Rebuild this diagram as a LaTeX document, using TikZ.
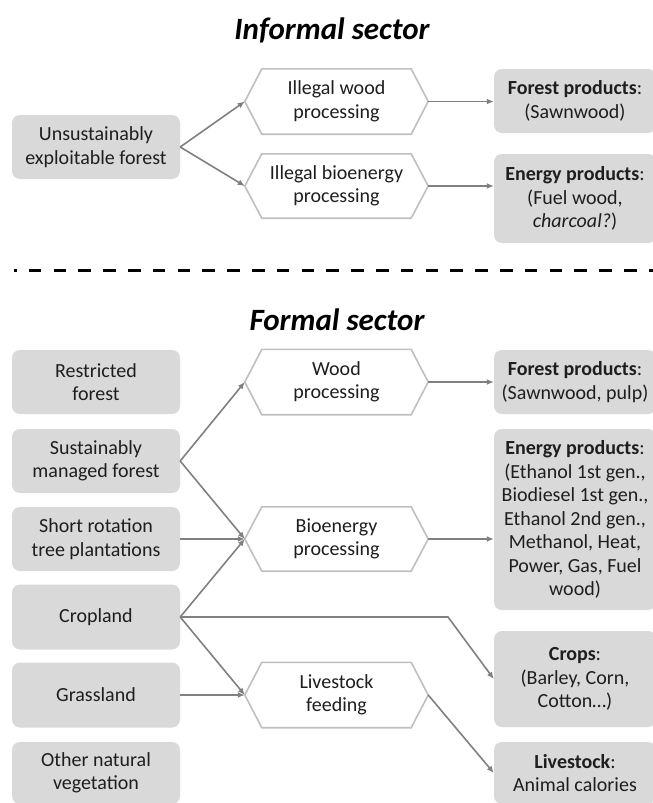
\documentclass[tikz,border=0pt]{standalone}
\usepackage{fontspec}
\setmainfont{Carlito}
\usetikzlibrary{arrows.meta}
\definecolor{boxgray}{RGB}{217,217,217}
\definecolor{hexline}{RGB}{191,191,191}
\definecolor{arrgray}{RGB}{128,128,128}
\definecolor{txt}{RGB}{30,30,30}
\tikzset{
  lbox/.style={fill=boxgray, rounded corners=8pt, minimum width=168pt, align=center, text=txt, inner sep=0pt, font=\fontsize{20}{23.5}\selectfont},
  rbox/.style={fill=boxgray, rounded corners=8pt, minimum width=162pt, align=center, text=txt, inner sep=0pt, font=\fontsize{20}{23.5}\selectfont},
  hexnode/.style={minimum width=183pt, align=center, text=txt, inner sep=0pt, font=\fontsize{20}{23.5}\selectfont},
  hexline/.style={draw=hexline, line width=1.6pt, fill=white, line join=miter},
  conn/.style={draw=arrgray, line width=1.6pt, -{Latex[length=7pt,width=6pt]}},
  title/.style={font=\fontsize{31}{36}\selectfont\bfseries\itshape, text=black}
}
\newcommand{\hexdraw}[1]{%
  \path[hexline] ([xshift=17pt]#1.north west) -- ([xshift=-17pt]#1.north east) -- (#1.east) -- ([xshift=-17pt]#1.south east) -- ([xshift=17pt]#1.south west) -- (#1.west) -- cycle;}
\begin{document}
\begin{tikzpicture}[x=1pt,y=-1pt]
\useasboundingbox (0,0) rectangle (653,803);
\begin{scope}
\clip (0,0) rectangle (653,803);

% Titles
\node[title] (t1) at (332,30) {Informal sector};
\node[title] (t2) at (337,320) {Formal sector};

% Dashed separator
\coordinate (d1) at (14,270);
\coordinate (d2) at (660,270);
\draw[line width=3pt, dash pattern=on 12.5pt off 12.3pt, dash phase=10pt] (d1) -- (d2);

% Informal sector
\node[lbox, minimum height=64pt] (U) at (96,147) {Unsustainably\\exploitable forest};
\node[hexnode, minimum height=65pt] (iw) at (336.5,101.5) {};
\hexdraw{iw}
\node[hexnode] at (iw) {Illegal wood\\processing};
\node[hexnode, minimum height=64pt] (ib) at (336.5,186) {};
\hexdraw{ib}
\node[hexnode] at (ib) {Illegal bioenergy\\processing};
\node[rbox, minimum height=64pt] (fp1) at (575,101) {\textbf{Forest products}:\\(Sawnwood)};
\node[rbox, minimum height=89pt] (ep1) at (575,198.5) {\textbf{Energy products}:\\(Fuel wood,\\\textit{charcoal?})};

\draw[conn] (U.east) -- (iw.west);
\draw[conn] (U.east) -- (ib.west);
\draw[conn] (iw.east) -- (iw.east -| fp1.west);
\draw[conn] (ib.east) -- (ib.east -| ep1.west);

% Formal sector - left column
\node[lbox, minimum height=64pt] (R) at (96,382) {Restricted\\forest};
\node[lbox, minimum height=64pt] (S) at (96,461) {Sustainably\\managed forest};
\node[lbox, minimum height=64pt] (SR) at (96,539) {Short rotation\\tree plantations};
\node[lbox, minimum height=65pt] (C) at (96,617) {Cropland};
\node[lbox, minimum height=65pt] (G) at (96,695) {Grassland};
\node[lbox, minimum height=62pt] (O) at (96,773) {Other natural\\vegetation};

% Processing
\node[hexnode, minimum height=65pt] (wp) at (336.5,382) {};
\hexdraw{wp}
\node[hexnode] at (wp) {Wood\\processing};
\node[hexnode, minimum height=64pt] (bp) at (336.5,539) {};
\hexdraw{bp}
\node[hexnode] at (bp) {Bioenergy\\processing};
\node[hexnode, minimum height=65pt] (lf) at (336.5,695) {};
\hexdraw{lf}
\node[hexnode] at (lf) {Livestock\\feeding};

% Products
\node[rbox, minimum height=64pt] (FP) at (575,382) {\textbf{Forest products}:\\(Sawnwood, pulp)};
\node[rbox, minimum height=181pt] (EP) at (575,519.5) {\textbf{Energy products}:\\(Ethanol 1st gen.,\\Biodiesel 1st gen.,\\Ethanol 2nd gen.,\\Methanol, Heat,\\Power, Gas, Fuel\\wood)};
\node[rbox, minimum height=96pt] (CR) at (575,679) {\textbf{Crops}:\\(Barley, Corn,\\Cotton\ldots)};
\node[rbox, minimum height=62pt] (LV) at (575,773) {\textbf{Livestock}:\\Animal calories};

% Connectors
\draw[conn] (S.east) -- (wp.west);
\draw[conn] (S.east) -- (bp.west);
\draw[conn] (SR.east) -- (bp.west);
\draw[conn] (C.east) -- (bp.west);
\draw[conn] (C.east) -- (lf.west);
\draw[conn] (G.east) -- (lf.west);
\coordinate (cbend) at (448,617);
\draw[conn] (C.east) -- (cbend) -- (CR.west);
\draw[conn] (wp.east) -- (wp.east -| FP.west);
\draw[conn] (bp.east) -- (bp.east -| EP.west);
\draw[conn] (lf.east) -- (LV.west);
\end{scope}
\end{tikzpicture}
\end{document}
